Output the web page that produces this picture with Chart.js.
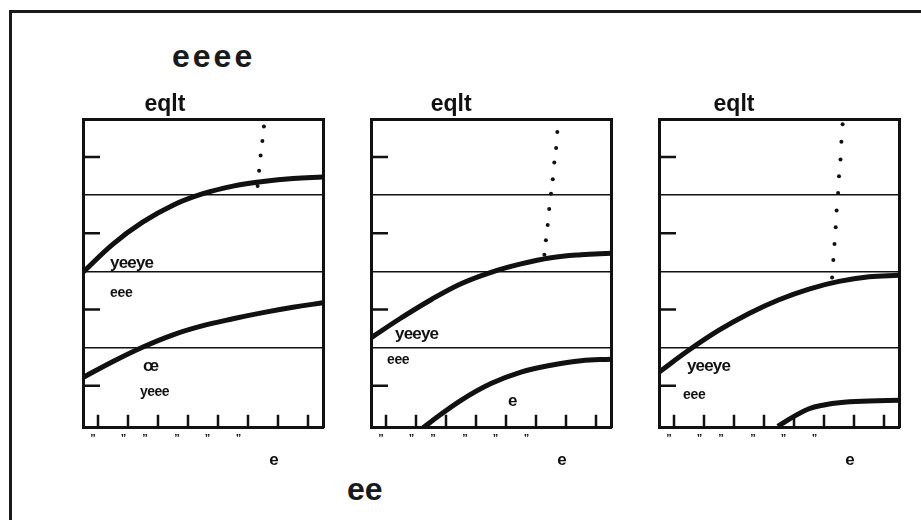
<!DOCTYPE html>
<html>
<head>
<meta charset="utf-8">
<script src="https://cdn.jsdelivr.net/npm/chart.js@4.4.1/dist/chart.umd.min.js"></script>
<style>
  body { margin: 0; background: #fff; width: 921px; height: 520px; overflow: hidden; position: relative;
         font-family: 'Liberation Sans', Arial, sans-serif; }
  #frame { position: absolute; left: 9px; top: 10px; width: 1000px; height: 600px;
           border-left: 3px solid #1a1a1a; border-top: 3px solid #1a1a1a; }
  .big { position: absolute; font-weight: bold; font-size: 32px; line-height: 32px; color: #1a1a1a; white-space: nowrap; }
  canvas { position: absolute; top: 85px; }
</style>
</head>
<body>
<div id="frame"></div>
<div class="big" style="left:172px;top:40px;letter-spacing:3px">eeee</div>
<div class="big" style="left:347px;top:473px">ee</div>
<canvas id="panel-0" width="280" height="400" style="left:63px"></canvas>
<canvas id="panel-1" width="280" height="400" style="left:351px"></canvas>
<canvas id="panel-2" width="280" height="400" style="left:639px"></canvas>
<script>
const INK = '#111';
const FONT = "'Liberation Sans', Arial, sans-serif";

// axes
const xTicks = [0.5, 1.5, 2.5, 3.5, 4.5, 5.5, 6.5, 7.5];
const yTicks = [0.5, 1.5, 2.5, 3.5];
const yLines = [1, 2, 3];
const xLabelPos = [0.33, 1.35, 2.07, 3.13, 4.15, 5.18];
const xLabels = ['”', '”', '”', '”', '”', '”'];
const xTitle = 'e';
const panelTitles = ['eqlt', 'eqlt', 'eqlt'];

// curves
const curveX = [0, 1, 2, 3, 4, 5, 6, 7, 8];
const p1Upper = [1.99, 2.36, 2.65, 2.87, 3.02, 3.12, 3.18, 3.22, 3.24];
const p1Lower = [0.61, 0.82, 1.01, 1.17, 1.29, 1.38, 1.46, 1.53, 1.59];
const p2Upper = [1.13, 1.39, 1.63, 1.84, 1.99, 2.10, 2.18, 2.22, 2.24];
const p2LowerX = [1.74, 2, 3, 4, 5, 6, 7, 8];
const p2Lower = [-0.05, 0.03, 0.31, 0.53, 0.68, 0.77, 0.83, 0.85];
const p3Upper = [0.68, 0.97, 1.23, 1.45, 1.63, 1.77, 1.87, 1.93, 1.95];
const p3LowerX = [3.96, 4.5, 5, 5.5, 6, 7, 8];
const p3Lower = [-0.03, 0.10, 0.20, 0.25, 0.28, 0.30, 0.31];

// dotted series
const p1DotX = [6.03, 5.98, 5.92, 5.87, 5.82];
const p1DotY = [3.90, 3.71, 3.52, 3.32, 3.12];
const p2DotX = [6.21, 6.17, 6.11, 6.06, 6.00, 5.94, 5.89, 5.83, 5.78];
const p2DotY = [3.83, 3.62, 3.43, 3.21, 3.02, 2.82, 2.61, 2.41, 2.22];
const p3DotX = [6.12, 6.08, 6.05, 6.00, 5.97, 5.92, 5.89, 5.85, 5.81, 5.77];
const p3DotY = [3.93, 3.70, 3.47, 3.25, 3.03, 2.80, 2.58, 2.36, 2.15, 1.92];

// in-plot notes
const p1Notes = ['yeeye', 'eee', 'œ', 'yeee'];
const p2Notes = ['yeeye', 'eee', 'e'];
const p3Notes = ['yeeye', 'eee'];

const pts = (xs, ys) => xs.map((x, i) => ({ x, y: ys[i] }));

const curve = data => ({
  data, borderColor: INK, borderWidth: 5, pointRadius: 0,
  tension: 0.4, borderCapStyle: 'butt', fill: false
});
const dots = data => ({
  data, showLine: false, pointRadius: 2, pointBorderWidth: 0,
  pointBackgroundColor: INK
});

// note placement (data units, left/baseline) and look
const noteStyle = {
  'yeeye': { size: 17, spacing: -0.8 },
  'eee': { size: 14, spacing: -0.3 },
  'œ': { size: 17, spacing: 0 },
  'yeee': { size: 14, spacing: -0.5 },
  'e': { size: 17, spacing: 0 }
};

const panels = [
  {
    datasets: [curve(pts(curveX, p1Upper)), curve(pts(curveX, p1Lower)), dots(pts(p1DotX, p1DotY))],
    notes: p1Notes, noteAt: [[0.9, 2.05], [0.9, 1.67], [2.0, 0.70], [1.9, 0.37]],
    titleAt: 2.73
  },
  {
    datasets: [curve(pts(curveX, p2Upper)), curve(pts(p2LowerX, p2Lower)), dots(pts(p2DotX, p2DotY))],
    notes: p2Notes, noteAt: [[0.8, 1.12], [0.53, 0.79], [4.57, 0.24]],
    titleAt: 2.67
  },
  {
    datasets: [curve(pts(curveX, p3Upper)), curve(pts(p3LowerX, p3Lower)), dots(pts(p3DotX, p3DotY))],
    notes: p3Notes, noteAt: [[0.93, 0.69], [0.8, 0.33]],
    titleAt: 2.5
  }
];

// inward tick marks, panel title, x title and notes
const decor = {
  id: 'decor',
  beforeDatasetsDraw(chart) {
    const { ctx, chartArea: a, scales: { x, y } } = chart;
    ctx.save();
    ctx.strokeStyle = INK;
    ctx.lineWidth = 2.5;
    ctx.beginPath();
    xTicks.forEach(v => {
      const px = x.getPixelForValue(v);
      ctx.moveTo(px, a.bottom);
      ctx.lineTo(px, a.bottom - 13);
    });
    yTicks.forEach(v => {
      const py = y.getPixelForValue(v);
      ctx.moveTo(a.left, py);
      ctx.lineTo(a.left + 17, py);
    });
    ctx.stroke();
    ctx.restore();
  },
  afterDraw(chart, args, opts) {
    const { ctx, chartArea: a, scales: { x, y } } = chart;
    ctx.save();
    ctx.fillStyle = INK;
    ctx.textBaseline = 'alphabetic';
    ctx.textAlign = 'center';
    ctx.font = `bold 23px ${FONT}`;
    ctx.fillText(opts.title, x.getPixelForValue(opts.titleAt), a.top - 8);
    ctx.font = `bold 17px ${FONT}`;
    ctx.fillText(xTitle, x.getPixelForValue(6.37), a.bottom + 37);
    ctx.textAlign = 'left';
    opts.notes.forEach((t, i) => {
      const st = noteStyle[t];
      ctx.font = `bold ${st.size}px ${FONT}`;
      ctx.letterSpacing = st.spacing + 'px';
      ctx.fillText(t, x.getPixelForValue(opts.noteAt[i][0]), y.getPixelForValue(opts.noteAt[i][1]));
    });
    ctx.restore();
  }
};

const frameAxis = position => ({
  type: 'linear', position, min: position === 'top' ? 0 : -0.05, max: position === 'top' ? 8 : 4,
  ticks: { display: false },
  grid: { drawOnChartArea: false, drawTicks: false },
  border: { display: true, color: INK, width: 3 }
});

panels.forEach((p, i) => {
  new Chart(document.getElementById('panel-' + i), {
    type: 'line',
    data: { datasets: p.datasets },
    options: {
      responsive: false,
      animation: false,
      events: [],
      layout: { padding: { left: 20, right: 20, top: 34, bottom: 42 } },
      plugins: {
        legend: { display: false },
        tooltip: { enabled: false },
        decor: { title: panelTitles[i], titleAt: p.titleAt, notes: p.notes, noteAt: p.noteAt }
      },
      scales: {
        x: {
          type: 'linear', position: 'bottom', min: 0, max: 8,
          afterBuildTicks: s => { s.ticks = xTicks.map(v => ({ value: v })); },
          ticks: { display: false },
          grid: { drawOnChartArea: false, drawTicks: false },
          border: { display: true, color: INK, width: 3 }
        },
        xl: {
          type: 'linear', position: 'bottom', min: 0, max: 8,
          afterBuildTicks: s => { s.ticks = xLabelPos.map(v => ({ value: v })); },
          ticks: {
            autoSkip: false, maxRotation: 0, padding: -3, color: INK,
            font: { family: FONT, size: 11, weight: 'bold' },
            callback: (v, idx) => xLabels[idx]
          },
          grid: { display: false },
          border: { display: false }
        },
        y: {
          type: 'linear', position: 'left', min: -0.05, max: 4,
          afterBuildTicks: s => { s.ticks = yLines.map(v => ({ value: v })); },
          ticks: { display: false },
          grid: { color: INK, lineWidth: 1.5, drawTicks: false },
          border: { display: true, color: INK, width: 3 }
        },
        x2: frameAxis('top'),
        y2: frameAxis('right')
      }
    },
    plugins: [decor]
  });
});
</script>
</body>
</html>
